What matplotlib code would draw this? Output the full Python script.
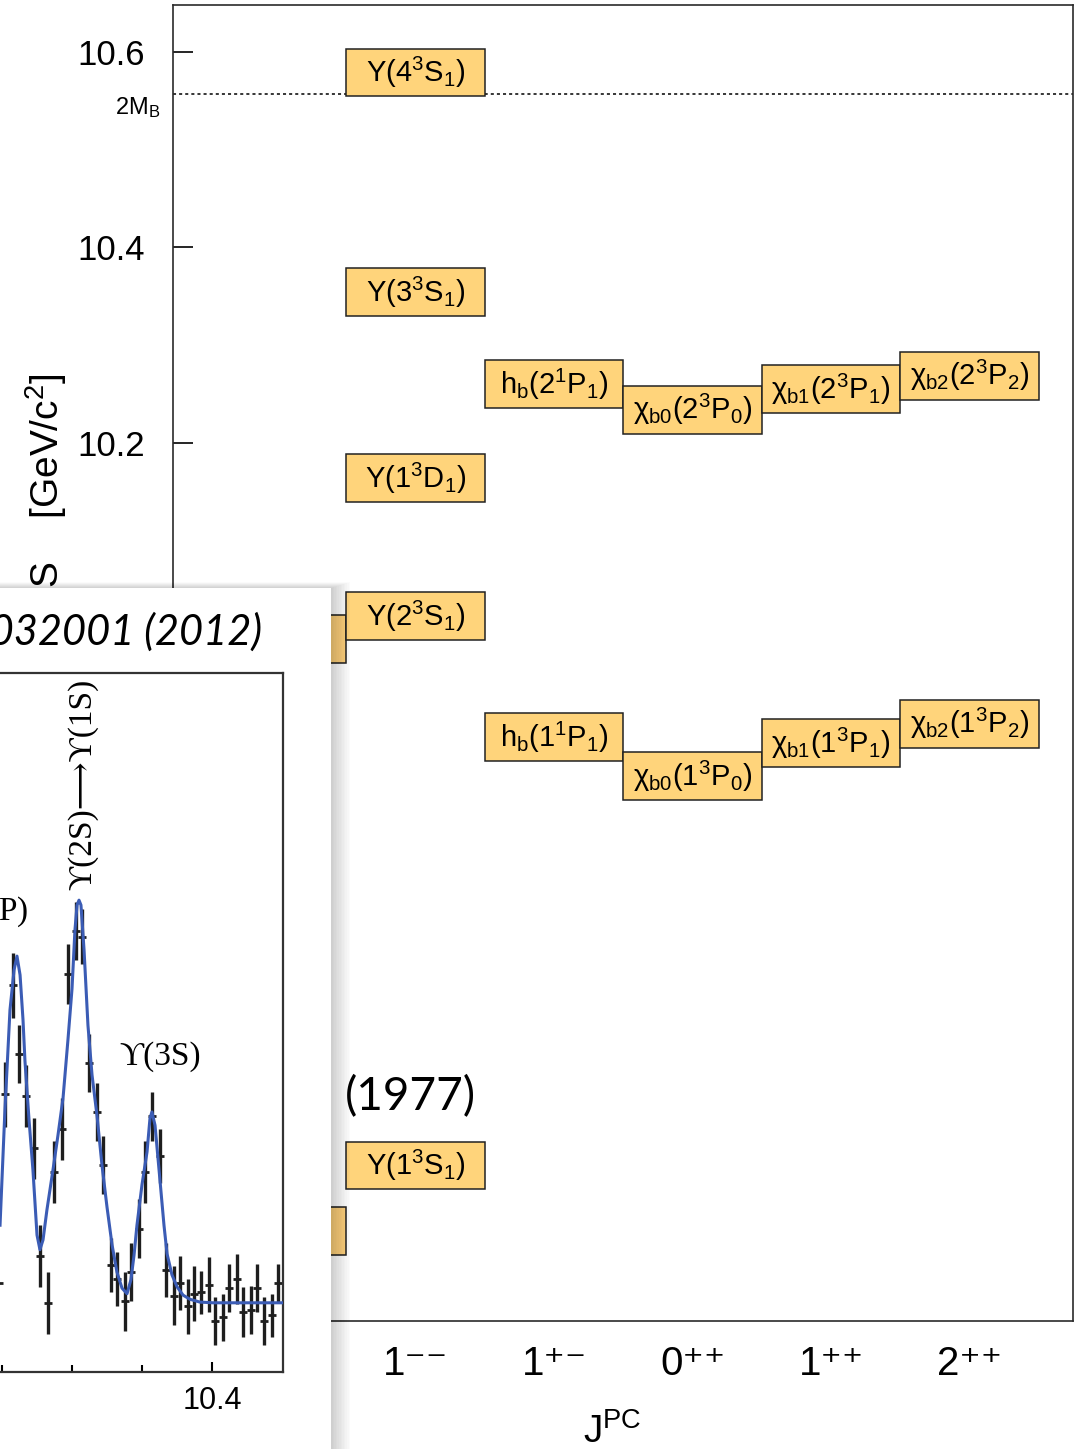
import matplotlib
matplotlib.use("Agg")
import matplotlib.pyplot as plt
from matplotlib.patches import Rectangle

plt.rcParams["font.family"] = ["Liberation Sans", "DejaVu Sans"]
plt.rcParams["mathtext.default"] = "regular"

W, H = 1085, 1449  # output size in pixels (dpi 100)

# --- bottomonium level diagram ---
jpc_pos = [-1, 0, 1, 2, 3, 4]
jpc_labels = ["0⁻⁺", "1⁻⁻", "1⁺⁻", "0⁺⁺", "1⁺⁺", "2⁺⁺"]

state_names = [
    "η$_b$(1$^1$S$_0$)", "η$_b$(2$^1$S$_0$)",
    "Υ(1$^3$S$_1$)", "Υ(2$^3$S$_1$)", "Υ(1$^3$D$_1$)", "Υ(3$^3$S$_1$)", "Υ(4$^3$S$_1$)",
    "h$_b$(1$^1$P$_1$)", "h$_b$(2$^1$P$_1$)",
    "χ$_{b0}$(1$^3$P$_0$)", "χ$_{b0}$(2$^3$P$_0$)",
    "χ$_{b1}$(1$^3$P$_1$)", "χ$_{b1}$(2$^3$P$_1$)",
    "χ$_{b2}$(1$^3$P$_2$)", "χ$_{b2}$(2$^3$P$_2$)",
]
state_col = [-1, -1, 0, 0, 0, 0, 0, 1, 1, 2, 2, 3, 3, 4, 4]
state_mass = [9.394, 9.9995, 9.461, 10.023, 10.164, 10.3545, 10.579,
              9.899, 10.260, 9.859, 10.234, 9.893, 10.255, 9.913, 10.269]

threshold_2mb = 10.557
mass_ticks = [9.4, 9.6, 9.8, 10.0, 10.2, 10.4, 10.6]

# --- inset: missing-mass spectrum (arbitrary units) ---
spec_x = [10.2475, 10.2525, 10.2575, 10.2625, 10.2675, 10.2725, 10.2775, 10.2825,
          10.2875, 10.2925, 10.2975, 10.3025, 10.3075, 10.3125, 10.3175, 10.3225,
          10.3275, 10.3325, 10.3375, 10.3425, 10.3475, 10.3525, 10.3575, 10.3625,
          10.3675, 10.3725, 10.3775, 10.3825, 10.3875, 10.3925, 10.3975, 10.4025,
          10.4075, 10.4125, 10.4175, 10.4225, 10.4275, 10.4325, 10.4375, 10.4425,
          10.4475]
spec_y = [12.7, 39.7, 55.3, 45.5, 39.5, 32.0, 16.6, 9.9,
          28.6, 34.8, 56.9, 63.1, 62.3, 44.2, 37.2, 29.6,
          15.3, 13.3, 10.1, 14.3, 20.5, 28.6, 36.6, 30.9,
          14.6, 10.9, 12.7, 9.4, 11.2, 11.4, 12.5, 7.3,
          7.8, 12.0, 13.3, 8.6, 8.9, 12.0, 7.3, 8.1,
          12.7]
spec_err = [5.2, 4.7, 4.7, 4.2, 4.4, 4.4, 4.4, 4.4,
            4.4, 4.4, 4.3, 4.2, 3.9, 4.2, 4.2, 4.2,
            3.9, 3.9, 4.2, 4.2, 4.2, 4.4, 3.5, 3.9,
            3.9, 4.2, 3.9, 3.9, 3.9, 3.1, 3.9, 3.4,
            3.4, 3.4, 3.6, 3.6, 3.4, 3.4, 3.4, 3.1,
            2.8]
fit_x = [10.2486, 10.2521, 10.2557, 10.2586, 10.2607, 10.2629, 10.2650, 10.2664,
         10.2693, 10.2721, 10.2750, 10.2771, 10.2793, 10.2821, 10.2864, 10.2900,
         10.2936, 10.2971, 10.3000, 10.3021, 10.3036, 10.3050, 10.3064, 10.3086,
         10.3114, 10.3143, 10.3179, 10.3214, 10.3250, 10.3286, 10.3321, 10.3357,
         10.3393, 10.3421, 10.3443, 10.3464, 10.3500, 10.3536, 10.3557, 10.3571,
         10.3593, 10.3629, 10.3657, 10.3679, 10.3714, 10.3750, 10.3793, 10.3843,
         10.3914, 10.4007, 10.4507]
fit_y = [21.0, 37.5, 51.8, 57.5, 59.5, 56.8, 50.4, 44.5,
         36.1, 28.9, 19.6, 17.5, 18.9, 23.2, 28.9, 33.9,
         39.2, 47.5, 54.8, 63.2, 66.8, 67.5, 66.8, 60.4,
         49.6, 42.5, 36.6, 29.6, 23.6, 18.2, 14.3, 12.0,
         11.2, 13.2, 16.7, 21.0, 26.8, 31.5, 36.3, 37.2,
         35.3, 27.3, 21.0, 16.9, 13.9, 12.2, 11.0, 10.4,
         10.0, 9.9, 9.9]


def fig_box(left, top, right, bottom):
    """pixel box (y down) -> figure-fraction rect"""
    return [left / W, 1 - bottom / H, (right - left) / W, (bottom - top) / H]


fig = plt.figure(figsize=(W / 100, H / 100), dpi=100)

# ---------------- main level diagram ----------------
ax = fig.add_axes(fig_box(173, 5, 1073, 1321))
ax.set_xlim(-1.751, 4.747)
ax.set_ylim(9.302, 10.648)
for s in ax.spines.values():
    s.set_linewidth(1.2)
    s.set_color("#2a2a2a")

box_h = 0.049
for name, col, m in zip(state_names, state_col, state_mass):
    ax.add_patch(Rectangle((col - 0.5, m - box_h / 2), 1.0, box_h,
                           fc="#ffd47b", ec="#222222", lw=1.1, zorder=3))
    ax.text(col, m, name, ha="center", va="center", fontsize=21, zorder=4)

ax.axhline(threshold_2mb, color="k", ls=(0, (2, 2)), lw=1.1, zorder=2)
ax.annotate("2M$_B$", xy=(0, threshold_2mb), xycoords=("axes fraction", "data"),
            xytext=(-9, -1), textcoords="offset points",
            ha="right", va="top", fontsize=17)

ax.set_yticks(mass_ticks, [f"{v:.1f}" for v in mass_ticks])
ax.tick_params(axis="y", direction="in", length=14.4, width=1.2,
               labelsize=25, pad=20, right=False)
ax.set_xticks(jpc_pos, jpc_labels)
ax.tick_params(axis="x", length=0, labelsize=29, pad=17, top=False)

fig.text(46 / W, 1 - 373 / H, "MASS    [GeV/c$^2$]", rotation=90,
         ha="center", va="top", fontsize=28)
fig.text(612 / W, 1 - 1432 / H, "J$^{PC}$", ha="center", va="center", fontsize=28)
fig.text(345 / W, 1 - 1097 / H, "(1977)", family=["Lato", "DejaVu Sans"],
         fontsize=33, ha="left", va="center")

# ---------------- pasted inset panel with shadow ----------------
ov = fig.add_axes([0, 0, 1, 1])
ov.set_xlim(0, W)
ov.set_ylim(H, 0)
ov.axis("off")
ov.set_zorder(5)
for k in range(1, 13):
    ov.add_patch(Rectangle((-50, 588 - 0.5 * k), 381 + 1.6 * k, 1000,
                           fc="k", alpha=0.016, lw=0))
ov.add_patch(Rectangle((-50, 588), 381, 1000, fc="white", lw=0))
ov.text(262, 632, "PRL 108, 032001 (2012)", family=["Lato", "DejaVu Sans"],
        style="italic", fontsize=30, ha="right", va="center")

sp = fig.add_axes(fig_box(-400, 673, 283, 1372))
sp.set_zorder(6)
sp.set_xlim(10.4 - 612 / 1400, 10.4 + 71 / 1400)
sp.set_ylim(0, 100)
for s in sp.spines.values():
    s.set_linewidth(1.6)
    s.set_color("#333333")
sp.set_xticks([10.0, 10.2, 10.4])
sp.set_xticks([10.05, 10.1, 10.15, 10.25, 10.3, 10.35], minor=True)
sp.set_yticks([])
sp.tick_params(axis="x", which="major", direction="in", length=7.5, width=1.5,
               labelsize=22, pad=10)
sp.tick_params(axis="x", which="minor", direction="in", length=5, width=1.5)

sp.plot(fit_x, fit_y, color="#3b5cb5", lw=2.2, zorder=3)
sp.errorbar(spec_x, spec_y, yerr=spec_err, fmt="_", color="#1e1e1e",
            ms=6, mew=2.0, elinewidth=2.4, capsize=0, zorder=2)

serif = ["Liberation Serif", "DejaVu Serif", "DejaVu Sans"]
sp.text(10.2686, 65.8, "h$_b$(2P)", family=serif, fontsize=24, ha="right", va="center")
sp.text(10.3079, 84.0, "ϒ(2S)⟶ϒ(1S)", family=serif, fontsize=24,
        rotation=90, ha="center", va="center")
sp.text(10.3629, 45.1, "ϒ(3S)", family=serif, fontsize=24, ha="center", va="center")

fig.savefig("out.png", dpi=100)
